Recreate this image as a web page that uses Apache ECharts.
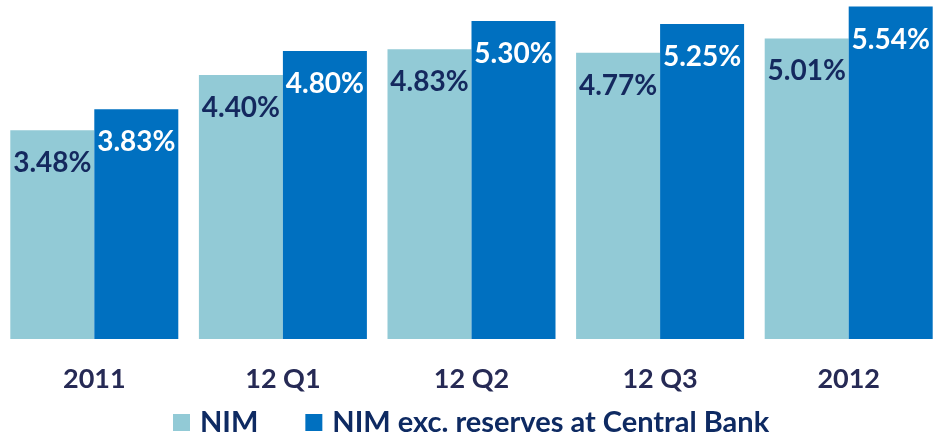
<!DOCTYPE html>
<html>
<head>
<meta charset="utf-8">
<script src="https://cdn.jsdelivr.net/npm/echarts@6/dist/echarts.min.js"></script>
<style>html,body{margin:0;padding:0;background:#fff}#c{width:943px;height:437px}</style>
</head>
<body>
<div id="c"></div>
<script>
const categories = ['2011', '12 Q1', '12 Q2', '12 Q3', '2012'];
const nim = [3.48, 4.40, 4.83, 4.77, 5.01];
const nimExc = [3.83, 4.80, 5.30, 5.25, 5.54];
const seriesNames = ['NIM', 'NIM exc. reserves at Central Bank'];

const FONT = 'Lato';
const chart = echarts.init(document.getElementById('c'), null, {renderer: 'canvas'});
chart.setOption({
  animation: false,
  backgroundColor: '#ffffff',
  grid: {left: -3, right: -12, top: 3, bottom: 98, containLabel: false},
  legend: {
    left: 168, top: 403, padding: 5,
    itemWidth: 17, itemHeight: 17, itemGap: 47,
    icon: 'rect',
    textStyle: {fontFamily: FONT, fontWeight: 'bold', fontSize: 29, color: '#0E2A62', padding: [0, 0, 0, 5]},
    data: seriesNames
  },
  xAxis: {
    type: 'category',
    data: categories,
    axisLine: {show: false},
    axisTick: {show: false},
    axisLabel: {margin: 27, fontFamily: FONT, fontWeight: 'bold', fontSize: 27, color: '#262A55'}
  },
  yAxis: {type: 'value', min: 0, max: 5.6, show: false, splitLine: {show: false}},
  series: [
    {
      name: seriesNames[0], type: 'bar', data: nim, barWidth: 84, barGap: 0,
      itemStyle: {color: '#92CAD6'},
      label: {show: true, position: 'insideTop', distance: 19,
        formatter: p => p.value.toFixed(2) + '%',
        fontFamily: FONT, fontWeight: 'bold', fontSize: 28, color: '#14285E'}
    },
    {
      name: seriesNames[1], type: 'bar', data: nimExc, barWidth: 84, barGap: 0,
      itemStyle: {color: '#0070C0'},
      label: {show: true, position: 'insideTop', distance: 19,
        formatter: p => p.value.toFixed(2) + '%',
        fontFamily: FONT, fontWeight: 'bold', fontSize: 28, color: '#ffffff'}
    }
  ]
});
</script>
</body>
</html>
